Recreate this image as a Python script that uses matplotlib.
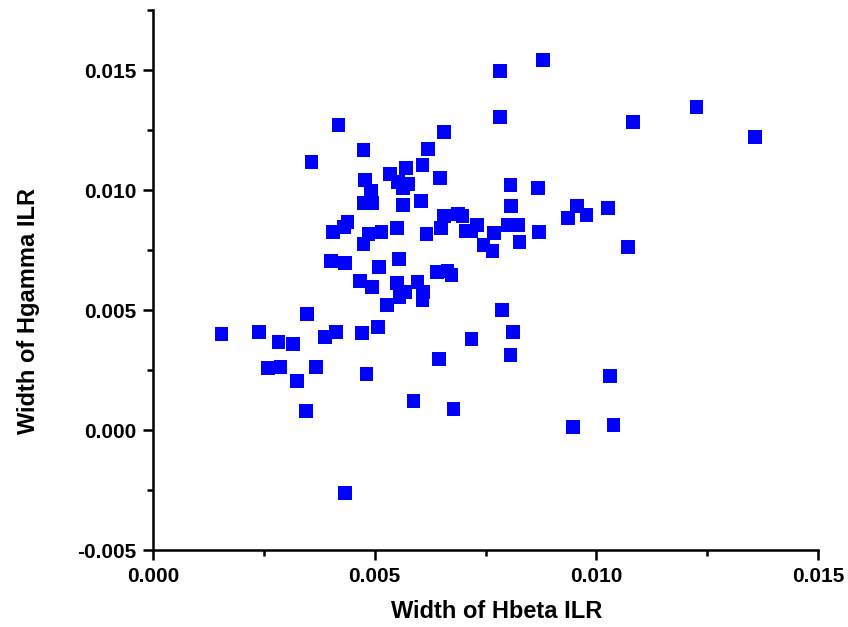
import matplotlib
matplotlib.use("Agg")
import matplotlib.pyplot as plt
from matplotlib.ticker import MultipleLocator, FormatStrFormatter

plt.rcParams['font.family'] = ['Liberation Sans', 'DejaVu Sans']
plt.rcParams['font.weight'] = 'bold'

# Width of Hbeta ILR (x) and Width of Hgamma ILR (y)
hbeta = [
    0.001556, 0.002391, 0.002820, 0.003158, 0.003474, 0.002594, 0.002865, 0.003248,
    0.003677, 0.003451, 0.003880, 0.004128, 0.004714, 0.005075, 0.004805, 0.005278,
    0.004940, 0.004669, 0.005504, 0.005571, 0.005684, 0.005977, 0.006068, 0.006090,
    0.006451, 0.005865, 0.006789, 0.004331, 0.008053, 0.010308, 0.009474, 0.010398,
    0.007195, 0.007872, 0.008120, 0.006406, 0.006632, 0.006744, 0.004015, 0.004331,
    0.005098, 0.005549, 0.004759, 0.007444, 0.007647, 0.008256, 0.010714, 0.004060,
    0.004308, 0.004398, 0.004850, 0.005165, 0.005504, 0.006180, 0.006496, 0.007038,
    0.007195, 0.007308, 0.007692, 0.008007, 0.008233, 0.008707, 0.006880, 0.006992,
    0.006564, 0.006045, 0.005639, 0.004759, 0.004940, 0.004917, 0.004782, 0.005346,
    0.005526, 0.005752, 0.005639, 0.005707, 0.006068, 0.006203, 0.006564, 0.006474,
    0.004759, 0.004195, 0.003586, 0.007827, 0.007827, 0.008797, 0.010827, 0.012270,
    0.013579, 0.008053, 0.008684, 0.008075, 0.009564, 0.009361, 0.009789, 0.010263,
]
hgamma = [
    0.004000, 0.004083, 0.003667, 0.003583, 0.004833, 0.002583, 0.002625, 0.002042,
    0.002625, 0.000792, 0.003875, 0.004083, 0.004042, 0.004292, 0.002333, 0.005208,
    0.005958, 0.006208, 0.006125, 0.005542, 0.005750, 0.006167, 0.005417, 0.005750,
    0.002958, 0.001208, 0.000875, -0.002625, 0.003125, 0.002250, 0.000125, 0.000208,
    0.003792, 0.005000, 0.004083, 0.006583, 0.006625, 0.006458, 0.007042, 0.006958,
    0.006792, 0.007125, 0.007750, 0.007708, 0.007458, 0.007833, 0.007625, 0.008250,
    0.008458, 0.008667, 0.008167, 0.008250, 0.008417, 0.008167, 0.008417, 0.008292,
    0.008292, 0.008542, 0.008208, 0.008542, 0.008542, 0.008250, 0.009000, 0.008917,
    0.008917, 0.009542, 0.009375, 0.009458, 0.009458, 0.009958, 0.010417, 0.010667,
    0.010333, 0.010250, 0.010083, 0.010917, 0.011042, 0.011708, 0.012417, 0.010500,
    0.011667, 0.012708, 0.011167, 0.013042, 0.014958, 0.015417, 0.012833, 0.013458,
    0.012208, 0.010208, 0.010083, 0.009333, 0.009333, 0.008833, 0.008958, 0.009250,
]

fig = plt.figure(figsize=(8.48, 6.27), dpi=100)
ax = fig.add_axes([153 / 848, 1 - 550 / 627, 665 / 848, 540 / 627])

ax.scatter(hbeta, hgamma, marker='s', s=88, color='#0000ff', edgecolors='none')

ax.set_xlim(0, 0.015)
ax.set_ylim(-0.005, 0.0175)
ax.xaxis.set_major_locator(MultipleLocator(0.005))
ax.xaxis.set_minor_locator(MultipleLocator(0.0025))
ax.yaxis.set_major_locator(MultipleLocator(0.005))
ax.yaxis.set_minor_locator(MultipleLocator(0.0025))
ax.xaxis.set_major_formatter(FormatStrFormatter('%.3f'))
ax.yaxis.set_major_formatter(FormatStrFormatter('%.3f'))

for side in ['top', 'right']:
    ax.spines[side].set_visible(False)
for side in ['left', 'bottom']:
    ax.spines[side].set_linewidth(1.8)

ax.tick_params(which='major', direction='out', length=7, width=1.8, labelsize=15, pad=5)
ax.tick_params(which='minor', direction='out', length=4, width=1.8)

ax.set_xlabel('Width of Hbeta ILR', fontsize=17, fontweight='bold')
ax.set_ylabel('Width of Hgamma ILR', fontsize=17, fontweight='bold')
ax.xaxis.set_label_coords(0.517, -0.092)
ax.yaxis.set_label_coords(-0.17, 0.443)

fig.savefig('out.png', dpi=100)
